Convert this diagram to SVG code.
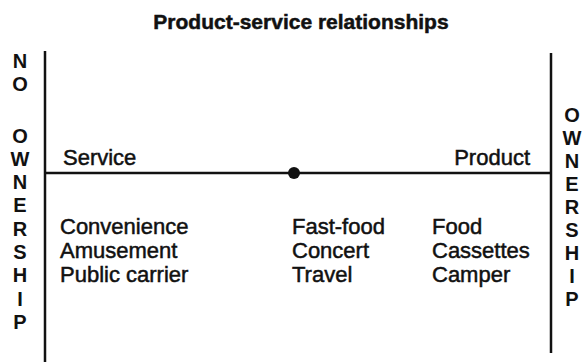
<svg xmlns="http://www.w3.org/2000/svg" width="587" height="362" viewBox="0 0 587 362">
<style>
.title{font-family:"Liberation Sans",Arial,sans-serif;font-weight:bold;font-size:21px;fill:#111;stroke:#111;stroke-width:0.5}
.side{font-family:"Liberation Sans",Arial,sans-serif;font-weight:bold;font-size:20px;fill:#111;text-anchor:middle}
.lbl{font-family:"Liberation Sans",Arial,sans-serif;font-size:22px;fill:#111;stroke:#111;stroke-width:0.5}
.ax{stroke:#111;stroke-width:2.5;fill:none}
</style>
<rect width="587" height="362" fill="#fff"/>
<text class="title" x="301" y="29" text-anchor="middle">Product-service relationships</text>
<g id="connectors">
<line class="ax" x1="45" y1="51" x2="45" y2="362"/>
<line class="ax" x1="551" y1="53" x2="551" y2="353"/>
<line class="ax" x1="45" y1="173" x2="551" y2="173"/>
</g>
<g id="midpoint"><circle cx="294" cy="173" r="6" fill="#111"/></g>
<g id="no-ownership">
<text class="side" x="20" y="68">N</text>
<text class="side" x="20" y="91">O</text>
<text class="side" x="20" y="143">O</text>
<text class="side" x="20" y="166">W</text>
<text class="side" x="20" y="189">N</text>
<text class="side" x="20" y="212">E</text>
<text class="side" x="20" y="236">R</text>
<text class="side" x="20" y="259">S</text>
<text class="side" x="20" y="282">H</text>
<text class="side" x="20" y="306">I</text>
<text class="side" x="20" y="329">P</text>
</g>
<g id="ownership">
<text class="side" x="572" y="122">O</text>
<text class="side" x="572" y="145">W</text>
<text class="side" x="572" y="168">N</text>
<text class="side" x="572" y="191">E</text>
<text class="side" x="572" y="214">R</text>
<text class="side" x="572" y="237">S</text>
<text class="side" x="572" y="260">H</text>
<text class="side" x="572" y="283">I</text>
<text class="side" x="572" y="306">P</text>
</g>
<g id="service"><text class="lbl" x="63" y="165">Service</text></g>
<g id="product"><text class="lbl" x="530" y="165" text-anchor="end">Product</text></g>
<g id="col-service">
<text class="lbl" x="60" y="234">Convenience</text>
<text class="lbl" x="60" y="258">Amusement</text>
<text class="lbl" x="60" y="282">Public carrier</text>
</g>
<g id="col-mixed">
<text class="lbl" x="292" y="234">Fast-food</text>
<text class="lbl" x="292" y="258">Concert</text>
<text class="lbl" x="292" y="282">Travel</text>
</g>
<g id="col-product">
<text class="lbl" x="432" y="234">Food</text>
<text class="lbl" x="432" y="258">Cassettes</text>
<text class="lbl" x="432" y="282">Camper</text>
</g>
</svg>
